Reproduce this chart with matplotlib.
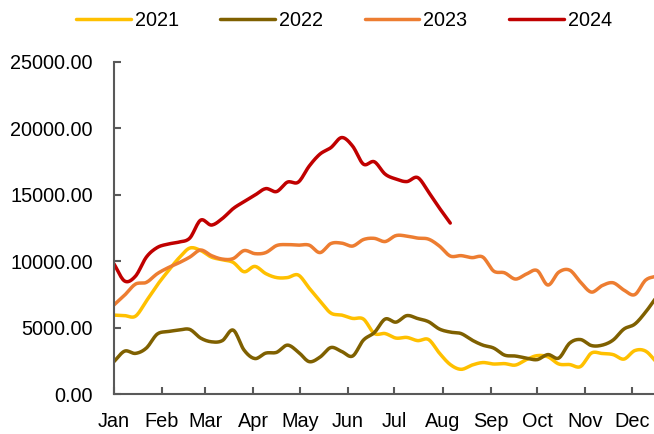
#!/usr/bin/env python3
"""Weekly values 2021-2024 drawn on one Jan-Dec axis."""
import numpy as np
import matplotlib
matplotlib.use("Agg")
import matplotlib.pyplot as plt

# weekly readings, first point on 1 Jan, one point every 7 days
v2021 = [5940, 5900, 5860, 7000, 8200, 9250, 10230, 10980, 10800, 10300,
         10100, 9900, 9200, 9600, 9060, 8760, 8760, 8950, 7970, 7000,
         6090, 5940, 5690, 5640, 4560, 4550, 4210, 4260, 4020, 4100,
         3080, 2220, 1860, 2180, 2370, 2260, 2290, 2180, 2590, 2890,
         2800, 2260, 2220, 2070, 3080, 3050, 2970, 2630, 3270, 3230, 2400]
v2022 = [2430, 3230, 3060, 3460, 4510, 4700, 4810, 4860, 4210, 3930,
         4020, 4810, 3310, 2670, 3080, 3140, 3680, 3160, 2440, 2780,
         3500, 3200, 2860, 4060, 4620, 5640, 5410, 5900, 5680, 5440,
         4890, 4660, 4550, 4060, 3680, 3460, 2930, 2860, 2710, 2590,
         2970, 2710, 3830, 4100, 3650, 3680, 4060, 4890, 5260, 6170, 7290]
v2023 = [6690, 7440, 8270, 8400, 9050, 9500, 9870, 10300, 10830, 10410,
         10150, 10190, 10790, 10560, 10640, 11170, 11240, 11200, 11200, 10640,
         11320, 11350, 11130, 11620, 11710, 11470, 11920, 11880, 11730, 11650,
         11130, 10380, 10410, 10260, 10300, 9250, 9120, 8650, 9020, 9290,
         8200, 9170, 9320, 8420, 7670, 8160, 8370, 7820, 7480, 8570, 8870]
v2024 = [9810, 8500, 8870, 10300, 11020, 11280, 11430, 11730, 13080, 12710,
         13200, 13950, 14470, 14960, 15450, 15230, 15940, 15940, 17140, 18050,
         18530, 19290, 18650, 17290, 17470, 16540, 16170, 15980, 16280, 15190,
         13990, 12860]

years = ["2021", "2022", "2023", "2024"]
colors = ["#FFC000", "#7F6000", "#ED7D31", "#C00000"]
months = ["Jan", "Feb", "Mar", "Apr", "May", "Jun",
          "Jul", "Aug", "Sep", "Oct", "Nov", "Dec"]
month_start = [0, 31, 59, 90, 120, 151, 181, 212, 243, 273, 304, 334]
yticks = [0, 5000, 10000, 15000, 20000, 25000]


def smooth(x, y, n=12):
    """Catmull-Rom curve through the points, like a smoothed office line."""
    x = np.asarray(x, float)
    y = np.asarray(y, float)
    px = np.concatenate([[2 * x[0] - x[1]], x, [2 * x[-1] - x[-2]]])
    py = np.concatenate([[2 * y[0] - y[1]], y, [2 * y[-1] - y[-2]]])
    t = np.linspace(0, 1, n, endpoint=False)[:, None]
    out_x, out_y = [], []
    for p in (px, py):
        p0, p1, p2, p3 = p[:-3], p[1:-2], p[2:-1], p[3:]
        seg = 0.5 * ((2 * p1) + (-p0 + p2) * t
                     + (2 * p0 - 5 * p1 + 4 * p2 - p3) * t ** 2
                     + (-p0 + 3 * p1 - 3 * p2 + p3) * t ** 3)
        flat = seg.T.ravel()
        (out_x if p is px else out_y).append(np.append(flat, p[-2]))
    return out_x[0], out_y[0]


plt.rcParams['font.family'] = ['Liberation Sans', 'DejaVu Sans']

fig = plt.figure(figsize=(6.54, 4.34), dpi=100)
ax = fig.add_axes([0.174, 0.092, 0.826, 0.766])

for name, vals, col in zip(years, [v2021, v2022, v2023, v2024], colors):
    days = np.arange(len(vals)) * 7
    sx, sy = smooth(days, vals)
    ax.plot(sx, sy, color=col, lw=2.5, label=name, solid_capstyle='round')

ax.set_xlim(0, 348.4)
ax.set_ylim(0, 25000)
ax.set_xticks(month_start)
ax.set_xticklabels(months)
ax.set_yticks(yticks)
ax.set_yticklabels([f"{v:.2f}" for v in yticks])

for side in ["top", "right"]:
    ax.spines[side].set_visible(False)
for side in ["left", "bottom"]:
    ax.spines[side].set_color("#595959")
    ax.spines[side].set_linewidth(1.5)
ax.tick_params(direction='in', length=5, width=1.5, color="#595959",
               labelsize=14.3, labelcolor="black")
ax.tick_params(axis='y', pad=15)
ax.tick_params(axis='x', pad=13)

fig.legend(loc='center', bbox_to_anchor=(0.526, 0.952), ncol=4,
           frameon=False, fontsize=14.3, handlelength=2.75,
           handletextpad=0.2, columnspacing=2.1)

fig.savefig("out.png", dpi=100)
plt.close()
